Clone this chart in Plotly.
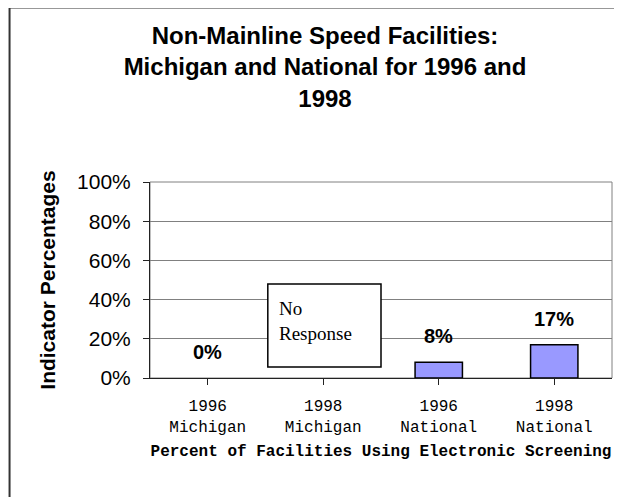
import plotly.graph_objects as go

# chart values
categories = ["1996<br>Michigan", "1998<br>Michigan", "1996<br>National", "1998<br>National"]
values = [0.0, None, 0.08, 0.17]
notes = [None, "No<br>Response", None, None]
y_ticks = [0, 0.2, 0.4, 0.6, 0.8, 1.0]

fig = go.Figure()

fig.add_trace(
    go.Bar(
        x=list(range(len(categories))),
        y=values,
        width=0.41,
        marker=dict(color="#9999FF",
                    line=dict(color="black", width=[1.5 if v else 0 for v in values])),
        showlegend=False,
        hoverinfo="skip",
    )
)

# value labels above the bars
for i, v in enumerate(values):
    if v is None:
        continue
    fig.add_annotation(
        x=i, y=v, text=f"<b>{v:.0%}</b>", showarrow=False,
        yanchor="middle", yshift=26,
        font=dict(family="Liberation Sans, Arial", size=20, color="black"),
    )

# "No Response" box
for i, note in enumerate(notes):
    if note is None:
        continue
    fig.add_shape(
        type="rect", xref="x", yref="y",
        x0=i - 0.48, x1=i + 0.5, y0=0.056, y1=0.48,
        line=dict(color="black", width=1.5), fillcolor="white", layer="above",
    )
    fig.add_annotation(
        x=i - 0.48, y=0.48, xref="x", yref="y", text=note, showarrow=False,
        xanchor="left", yanchor="top", align="left", xshift=9, yshift=-12,
        font=dict(family="Liberation Serif, Times New Roman", size=19, color="black"),
    )

# plot area border (gray) and outer frame (only its top and left edges show)
fig.add_shape(type="rect", xref="paper", yref="paper", x0=0, x1=1, y0=0, y1=1,
              line=dict(color="#808080", width=1), layer="below")
fig.add_shape(type="line", xref="paper", yref="paper", x0=-0.304, x1=1.3, y0=1.89, y1=1.89,
              line=dict(color="#333333", width=2))
fig.add_shape(type="line", xref="paper", yref="paper", x0=-0.304, x1=-0.304, y0=-1.2, y1=1.89,
              line=dict(color="#333333", width=2))

# the page puts the figure 8px in from the top-left corner, so it is sized to fit
fig.update_layout(
    width=614, height=489,
    margin=dict(l=142, r=10, t=174, b=119, autoexpand=False),
    paper_bgcolor="white", plot_bgcolor="white",
    title=dict(
        text="<b>Non-Mainline Speed Facilities:<br>Michigan and National for 1996 and<br>1998</b>",
        x=0.5163, xanchor="center", y=0.9258, yanchor="top",
        font=dict(family="Liberation Sans, Arial", size=24, color="black"),
    ),
    bargap=0.59,
)

fig.update_xaxes(
    tickmode="array", tickvals=list(range(len(categories))), ticktext=categories,
    range=[-0.5, 3.5], showline=True, linecolor="#222222", linewidth=1,
    ticks="outside", ticklen=6, tickcolor="#222222", showgrid=False,
    tickfont=dict(family="Liberation Mono, Courier New", size=16, color="black"),
    ticklabelstandoff=7, automargin=False,
    title=dict(text="<b>Percent of Facilities Using Electronic Screening</b>",
               font=dict(family="Liberation Mono, Courier New", size=16, color="black"),
               standoff=8),
)

fig.update_yaxes(
    range=[0, 1], tickvals=y_ticks, tickformat=".0%",
    showline=True, linecolor="#222222", linewidth=1,
    ticks="outside", ticklen=6, tickcolor="#222222",
    showgrid=True, gridcolor="#808080", gridwidth=1, zeroline=False,
    tickfont=dict(family="Liberation Sans, Arial", size=21, color="black"),
    ticklabelstandoff=8, automargin=False,
    title=dict(text="<b>Indicator Percentages</b>",
               font=dict(family="Liberation Sans, Arial", size=21, color="black"),
               standoff=15),
)

fig.write_html("out.html", config={"displayModeBar": False})
